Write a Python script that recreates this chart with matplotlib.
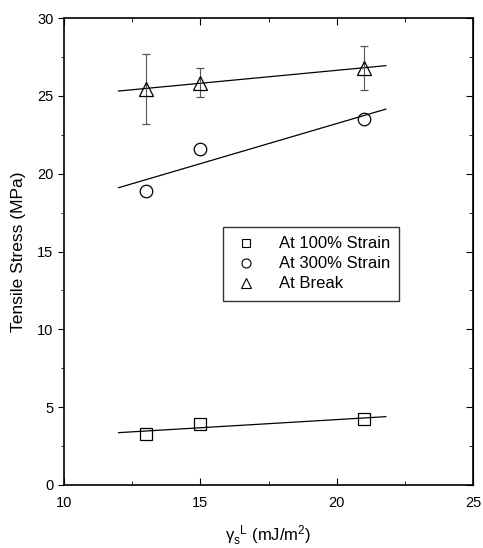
import matplotlib.pyplot as plt
import numpy as np
from matplotlib.lines import Line2D
from matplotlib.ticker import MultipleLocator

plt.rcParams['font.family'] = ['Liberation Sans', 'DejaVu Sans']
plt.rcParams['mathtext.fontset'] = 'custom'
plt.rcParams['mathtext.rm'] = 'Liberation Sans'
plt.rcParams['mathtext.it'] = 'Liberation Sans:italic'

gamma = np.array([13, 15, 21])
s100 = np.array([3.3, 3.9, 4.25])
s300 = np.array([18.9, 21.6, 23.5])
s_break = np.array([25.45, 25.85, 26.8])
s_break_err = np.array([2.25, 0.95, 1.4])

fig = plt.figure(figsize=(4.83, 5.48), dpi=100)
ax = fig.add_axes([0.1325, 0.115, 0.847, 0.852])

xfit = np.array([12, 21.8])
for y in (s100, s300, s_break):
    p = np.polyfit(gamma, y, 1)
    ax.plot(xfit, np.polyval(p, xfit), color='black', lw=0.9)

ax.plot(gamma, s100, 's', mfc='none', mec='black', ms=8, mew=0.9)
ax.plot(gamma, s300, 'o', mfc='none', mec='black', ms=9, mew=0.9)
ax.errorbar(gamma, s_break, yerr=s_break_err, fmt='^', mfc='none', mec='black', ms=10, mew=0.9,
            ecolor='#555555', elinewidth=0.8, capsize=3, capthick=0.8)

ax.set_xlim(10, 25)
ax.set_ylim(0, 30)
ax.xaxis.set_major_locator(MultipleLocator(5))
ax.xaxis.set_minor_locator(MultipleLocator(2.5))
ax.yaxis.set_major_locator(MultipleLocator(5))
ax.yaxis.set_minor_locator(MultipleLocator(2.5))
ax.tick_params(axis='x', which='both', direction='in', top=True, labelsize=10.5, pad=8)
ax.tick_params(axis='x', which='major', length=5)
ax.tick_params(axis='x', which='minor', length=3)
ax.tick_params(axis='y', which='both', direction='out', right=False, labelsize=10.5)
ax.tick_params(axis='y', which='major', length=4)
ax.tick_params(axis='y', which='minor', length=2)
ay = ax.secondary_yaxis('right')
ay.yaxis.set_major_locator(MultipleLocator(5))
ay.yaxis.set_minor_locator(MultipleLocator(2.5))
ay.tick_params(which='both', direction='in', labelright=False)
ay.tick_params(which='major', length=5)
ay.tick_params(which='minor', length=3)

for sp in ax.spines.values():
    sp.set_linewidth(1.2)

ax.set_ylabel('Tensile Stress (MPa)', fontsize=12.5, labelpad=8)
ax.set_xlabel(r'γ$_\mathrm{s}^\mathrm{\ \ L}$ (mJ/m$^2$)', fontsize=12, labelpad=10)

handles = [
    Line2D([], [], ls='none', marker='s', mfc='none', mec='black', ms=6, mew=0.8),
    Line2D([], [], ls='none', marker='o', mfc='none', mec='black', ms=6.5, mew=0.8),
    Line2D([], [], ls='none', marker='^', mfc='none', mec='black', ms=7, mew=0.8),
]
labels = ['At 100% Strain', 'At 300% Strain', 'At Break']
leg = ax.legend(handles, labels, loc='upper left', bbox_to_anchor=(0.389, 0.552), fontsize=12,
                frameon=True, fancybox=False, edgecolor='black',
                handlelength=1.6, handletextpad=1.2, borderpad=0.55, labelspacing=0.3,
                borderaxespad=0)
leg.get_frame().set_linewidth(1.0)

fig.savefig('out.png', dpi=100)
